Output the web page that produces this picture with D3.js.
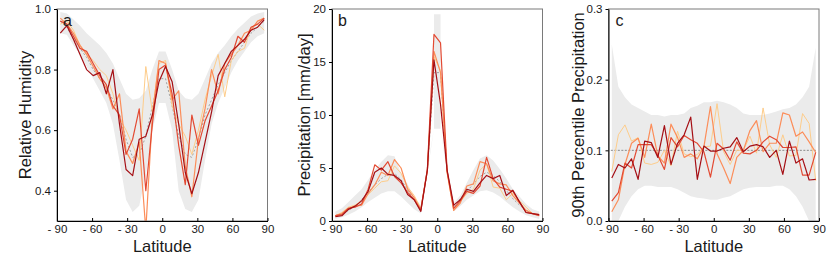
<!DOCTYPE html>
<html><head><meta charset="utf-8">
<script src="https://cdn.jsdelivr.net/npm/d3@7"></script>
<style>
html,body{margin:0;padding:0;background:#fff;}
svg text{font-family:"Liberation Sans",Arial,sans-serif;fill:#1a1a1a;}
</style></head>
<body><svg id="chart" width="830" height="277"></svg>
<script>
// ---------- DATA ----------
const lats = [-87.19,-81.56,-75.94,-70.31,-64.69,-59.06,-53.44,-47.81,-42.19,-36.56,-30.94,-25.31,-19.69,-14.06,-8.44,-2.81,
              2.81,8.44,14.06,19.69,25.31,30.94,36.56,42.19,47.81,53.44,59.06,64.69,70.31,75.94,81.56,87.19];
// band grid for panel b (equatorial strip has vertical edges)
const prBandLats = [-87.19,-81.56,-75.94,-70.31,-64.69,-59.06,-53.44,-47.81,-42.19,-36.56,-30.94,-25.31,-19.69,-14.06,-8.44,-2.81,-2.81,
              2.81,2.81,8.44,14.06,19.69,25.31,30.94,36.56,42.19,47.81,53.44,59.06,64.69,70.31,75.94,81.56,87.19];
const xTicks = [-90,-60,-30,0,30,60,90];
const xTickLabels = ["- 90","- 60","- 30","0","30","60","90"];
const seriesColors = ["#fdcc8a","#fc8d59","#e34a33","#a50f15"];

// Panel a: relative humidity
const rhBandHi = [0.99,0.985,0.965,0.945,0.92,0.90,0.88,0.855,0.82,0.77,0.72,0.70,0.705,0.73,0.80,0.86,0.86,0.80,0.73,0.705,0.70,0.72,0.77,0.82,0.855,0.88,0.91,0.935,0.955,0.975,0.985,0.99];
const rhBandLo = [0.92,0.915,0.88,0.85,0.81,0.77,0.73,0.69,0.62,0.50,0.37,0.33,0.35,0.45,0.60,0.69,0.69,0.60,0.40,0.34,0.33,0.37,0.50,0.62,0.69,0.74,0.79,0.83,0.86,0.89,0.91,0.92];
const rhMean = [0.96,0.94,0.90,0.87,0.84,0.80,0.77,0.74,0.70,0.65,0.57,0.51,0.52,0.58,0.68,0.77,0.77,0.68,0.58,0.52,0.51,0.57,0.65,0.70,0.75,0.79,0.83,0.86,0.89,0.92,0.94,0.96];
const rhS4 = [0.92,0.945,0.90,0.85,0.80,0.78,0.79,0.72,0.80,0.62,0.47,0.45,0.57,0.58,0.65,0.76,0.81,0.76,0.62,0.46,0.39,0.46,0.56,0.66,0.78,0.82,0.86,0.88,0.90,0.93,0.94,0.965];
const rhS3 = [0.96,0.95,0.91,0.87,0.86,0.82,0.78,0.75,0.68,0.65,0.52,0.57,0.67,0.40,0.62,0.80,0.815,0.72,0.55,0.42,0.65,0.55,0.63,0.68,0.73,0.80,0.84,0.91,0.89,0.94,0.95,0.97];
const rhS2 = [0.97,0.95,0.92,0.88,0.85,0.81,0.77,0.74,0.67,0.72,0.53,0.49,0.56,0.27,0.65,0.83,0.82,0.70,0.73,0.48,0.38,0.57,0.67,0.80,0.72,0.82,0.85,0.88,0.92,0.93,0.96,0.97];
const rhS1 = [0.95,0.96,0.93,0.88,0.85,0.83,0.80,0.78,0.72,0.64,0.60,0.55,0.50,0.81,0.66,0.82,0.83,0.68,0.62,0.58,0.52,0.60,0.70,0.78,0.85,0.71,0.83,0.86,0.87,0.94,0.95,0.93];
const rhTicks = [0.4,0.6,0.8,1.0];

// Panel b: precipitation
const prBandHi = [0.9,1.2,1.8,2.4,3.0,3.9,4.8,5.6,6.2,6.1,4.5,3.5,2.2,1.5,5.0,8.7,19.5,19.5,8.7,5.0,1.7,2.4,3.6,4.8,5.9,6.2,5.7,4.9,4.0,3.0,2.3,1.6,1.1,0.9];
const prBandLo = [0.2,0.35,0.6,0.9,1.3,1.8,2.2,2.6,2.8,2.8,2.3,1.7,1.1,0.7,4.5,8.7,8.7,8.7,8.7,4.5,0.9,1.4,2.0,2.4,2.8,2.9,2.7,2.3,1.8,1.3,0.9,0.55,0.35,0.2];
const prMean = [0.5,0.7,1.0,1.4,2.0,2.7,3.4,4.0,4.4,4.5,3.9,2.9,2.0,1.1,4.7,14.0,14.0,4.7,1.3,2.1,2.8,3.5,4.2,4.6,4.3,3.7,2.9,2.1,1.5,1.0,0.7,0.5];
const prS4 = [0.4,0.5,1.1,1.4,1.9,2.8,4.6,5.0,4.4,4.3,3.8,2.5,2.0,0.9,4.8,15.2,11.0,4.8,1.5,2.0,3.0,2.8,3.6,4.3,4.0,4.3,2.4,2.9,1.8,0.8,0.7,0.6];
const prS3 = [0.5,0.6,1.2,1.3,1.6,3.0,5.3,4.8,5.6,4.2,3.6,2.7,2.0,1.0,4.9,17.6,16.8,4.7,1.2,1.9,2.8,2.6,3.3,6.0,4.0,3.2,3.0,2.8,1.8,0.8,0.7,0.5];
const prS2 = [0.5,0.7,1.2,1.4,1.5,2.6,3.4,4.6,4.3,5.8,5.0,3.0,2.2,1.1,4.8,16.0,14.0,4.6,1.0,1.7,3.3,3.5,5.6,5.4,3.8,3.5,3.4,2.4,1.7,1.0,0.7,0.6];
const prS1 = [0.5,0.8,1.3,1.5,1.9,2.5,3.1,3.7,3.8,5.2,4.5,3.2,2.4,1.2,4.7,15.5,14.2,4.5,1.0,1.8,2.6,3.0,4.8,5.4,3.2,3.1,2.0,2.6,1.9,1.3,0.7,0.5];
const prTicks = [0,5,10,15,20];

// Panel c: 90th percentile precipitation
const p90BandHi = [0.25,0.19,0.175,0.165,0.16,0.155,0.15,0.15,0.148,0.15,0.15,0.152,0.16,0.163,0.168,0.168,0.17,0.168,0.165,0.16,0.152,0.15,0.15,0.15,0.152,0.155,0.158,0.16,0.165,0.175,0.19,0.245];
const p90BandLo = [-0.03,0.0,0.02,0.035,0.045,0.05,0.05,0.048,0.048,0.048,0.045,0.04,0.035,0.033,0.032,0.03,0.03,0.033,0.035,0.04,0.045,0.047,0.048,0.048,0.048,0.05,0.05,0.045,0.035,0.02,0.0,-0.03];
const p90RefLats = [-88,88];
const p90Ref = [0.1,0.1];
const p90S4 = [0.061,0.08,0.075,0.088,0.059,0.113,0.111,0.09,0.135,0.08,0.11,0.122,0.147,0.059,0.106,0.099,0.099,0.103,0.105,0.118,0.098,0.106,0.108,0.105,0.09,0.10,0.066,0.113,0.082,0.088,0.058,0.059];
const p90S3 = [0.028,0.04,0.082,0.075,0.108,0.108,0.108,0.093,0.073,0.118,0.105,0.121,0.115,0.11,0.098,0.062,0.11,0.102,0.086,0.112,0.096,0.095,0.1,0.112,0.12,0.115,0.104,0.104,0.105,0.065,0.065,0.097];
const p90S2 = [0.013,0.03,0.08,0.11,0.117,0.09,0.137,0.092,0.082,0.137,0.118,0.09,0.095,0.088,0.105,0.162,0.095,0.075,0.053,0.09,0.1,0.128,0.142,0.098,0.11,0.11,0.153,0.15,0.12,0.126,0.112,0.097];
const p90S1 = [0.07,0.122,0.136,0.113,0.118,0.082,0.08,0.083,0.1,0.078,0.127,0.095,0.091,0.094,0.105,0.106,0.166,0.098,0.08,0.1,0.1,0.12,0.096,0.16,0.108,0.09,0.122,0.092,0.093,0.152,0.138,0.057];
const p90Ticks = [0.0,0.1,0.2,0.3];

// ---------- DRAW ----------
const svg = d3.select("#chart");
const plotTop = 9, plotBottom = 221, pw = 210.5;

const panels = [
  {left:57, letter:"a", ylabel:"Relative Humidity", ydom:[0.3,1.0], yticks:rhTicks, fmt:d3.format(".1f"),
   bandLats:lats, hi:rhBandHi, lo:rhBandLo, mean:rhMean, series:[rhS1,rhS2,rhS3,rhS4], titleX:31, letterDx:6},
  {left:332, letter:"b", ylabel:"Precipitation [mm/day]", ydom:[0,20], yticks:prTicks, fmt:d3.format("d"),
   bandLats:prBandLats, hi:prBandHi, lo:prBandLo, mean:prMean, series:[prS1,prS2,prS3,prS4], titleX:310, letterDx:6},
  {left:608.5, letter:"c", ylabel:"90th Percentile Precipitation", ydom:[0,0.3], yticks:p90Ticks, fmt:d3.format(".1f"),
   bandLats:lats, hi:p90BandHi, lo:p90BandLo, ref:p90Ref, series:[p90S1,p90S2,p90S3,p90S4], titleX:584, letterDx:7}
];

panels.forEach((p,pi)=>{
  const x = d3.scaleLinear().domain([-90,90]).range([p.left, p.left+pw]);
  const y = d3.scaleLinear().domain(p.ydom).range([plotBottom, plotTop]);
  const g = svg.append("g");
  const cid = "clip"+pi;
  svg.append("clipPath").attr("id",cid).append("rect")
    .attr("x",p.left).attr("y",plotTop).attr("width",pw).attr("height",plotBottom-plotTop);
  const pg = g.append("g").attr("clip-path",`url(#${cid})`);

  const area = d3.area().x((d,i)=>x(p.bandLats[i])).y0((d,i)=>y(p.lo[i])).y1((d,i)=>y(p.hi[i]));
  pg.append("path").datum(p.hi).attr("d",area).attr("fill","#ebebeb");

  if(p.mean){
    pg.append("path").datum(p.mean)
      .attr("d",d3.line().x((d,i)=>x(lats[i])).y(d=>y(d)))
      .attr("fill","none").attr("stroke","#9a9a9a").attr("stroke-width",0.9).attr("stroke-dasharray","2,2");
  }
  if(p.ref){
    pg.append("path").datum(p.ref)
      .attr("d",d3.line().x((d,i)=>x(p90RefLats[i])).y(d=>y(d)))
      .attr("fill","none").attr("stroke","#8a8a8a").attr("stroke-width",1).attr("stroke-dasharray","2,1.5");
  }
  p.series.forEach((s,si)=>{
    pg.append("path").datum(s)
      .attr("d",d3.line().x((d,i)=>x(lats[i])).y(d=>y(d)))
      .attr("fill","none").attr("stroke",seriesColors[si])
      .attr("stroke-width", si===0?1.0:1.2).attr("stroke-linejoin","round");
  });

  g.append("rect").attr("x",p.left).attr("y",plotTop).attr("width",pw).attr("height",plotBottom-plotTop)
    .attr("fill","none").attr("stroke","#7a7a7a").attr("stroke-width",1);

  const xa = d3.axisBottom(x).tickValues(xTicks).tickFormat((d,i)=>xTickLabels[i]).tickSizeInner(-3).tickSizeOuter(0).tickPadding(4);
  const xg = g.append("g").attr("transform",`translate(0,${plotBottom})`).call(xa);
  xg.select(".domain").attr("stroke","#000");
  xg.selectAll("line").attr("stroke","#000");
  xg.selectAll("text").attr("font-size",11.5).style("fill","#1a1a1a");

  const ya = d3.axisLeft(y).tickValues(p.yticks).tickFormat(p.fmt).tickSizeInner(3).tickSizeOuter(0).tickPadding(3);
  const yg = g.append("g").attr("transform",`translate(${p.left},0)`).call(ya);
  yg.select(".domain").attr("stroke","#000");
  yg.selectAll("line").attr("stroke","#000");
  yg.selectAll("text").attr("font-size",11.5).style("fill","#1a1a1a");

  g.append("text").attr("x",p.left+pw/2).attr("y",252).attr("text-anchor","middle")
    .attr("font-size",16.5).text("Latitude");
  g.append("text").attr("transform",`translate(${p.titleX},${(plotTop+plotBottom)/2}) rotate(-90)`)
    .attr("text-anchor","middle").attr("font-size",16.5).text(p.ylabel);
  g.append("text").attr("x",p.left+p.letterDx).attr("y",26).attr("font-size",16).text(p.letter);
});
</script></body></html>
